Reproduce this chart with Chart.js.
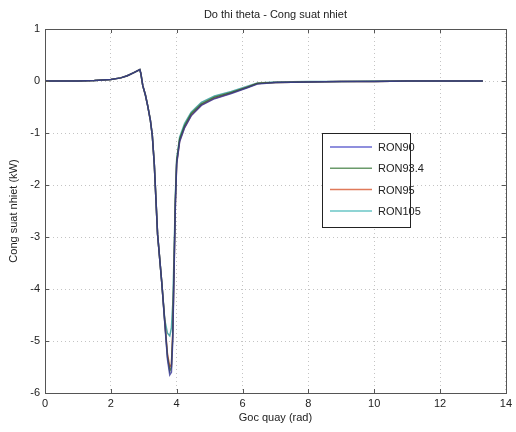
<!DOCTYPE html>
<html>
<head>
<meta charset="utf-8">
<script src="https://cdn.jsdelivr.net/npm/chart.js@4"></script>
<style>
body{margin:0;background:#fff}
canvas{display:block}
</style>
</head>
<body>
<canvas id="chart" width="516" height="432"></canvas>
<script>

let theta=[0,0.5,1,1.5,2,2.3,2.5,2.7,2.88,2.91,2.97,3.05,3.12,3.2,3.26,3.32,3.42,3.55,3.64,3.72,3.79,3.84,3.88,3.92,3.96,4.0,4.09,4.24,4.44,4.75,5.15,5.66,6.15,6.45,7,8,9,10,11,12,13,13.3]

let ron90=[0,0,0,0.01,0.03,0.06,0.1,0.16,0.22,0.15,-0.09,-0.27,-0.48,-0.75,-1.05,-1.6,-2.95,-3.9,-4.67,-5.35,-5.65,-5.6,-5.0,-3.7,-2.4,-1.6,-1.17,-0.9,-0.67,-0.47,-0.34,-0.24,-0.13,-0.06,-0.03,-0.02,-0.01,-0.01,0,0,0,0]
let ron93=[0,0,0,0.01,0.03,0.06,0.1,0.16,0.22,0.15,-0.09,-0.27,-0.48,-0.75,-1.05,-1.6,-2.95,-3.9,-4.65,-5.3,-5.58,-5.5,-4.9,-3.6,-2.3,-1.55,-1.12,-0.86,-0.63,-0.44,-0.31,-0.22,-0.12,-0.05,-0.03,-0.02,-0.01,-0.01,0,0,0,0]
let ron95=[0,0,0,0.01,0.03,0.06,0.1,0.16,0.22,0.15,-0.09,-0.27,-0.48,-0.75,-1.05,-1.6,-2.95,-3.9,-4.63,-5.25,-5.5,-5.45,-4.85,-3.6,-2.35,-1.58,-1.15,-0.89,-0.66,-0.46,-0.33,-0.23,-0.12,-0.05,-0.03,-0.02,-0.01,-0.01,0,0,0,0]
let ron105=[0,0,0,0.01,0.03,0.06,0.1,0.16,0.22,0.15,-0.09,-0.27,-0.48,-0.75,-1.05,-1.6,-2.95,-3.9,-4.6,-4.85,-4.9,-4.75,-4.3,-3.35,-2.2,-1.5,-1.08,-0.82,-0.6,-0.41,-0.29,-0.2,-0.1,-0.04,-0.02,-0.01,-0.01,0,0,0,0,0]

let names=["RON90","RON93.4","RON95","RON105"]
let colors=["rgba(55,55,150,0.8)","rgba(35,95,35,0.8)","rgba(180,55,40,0.8)","rgba(45,150,150,0.8)"]
let legendColors=["#6a6ad2","#6a9a6a","#e07a5a","#6ac6c6"]

let xTicks=[0,2,4,6,8,10,12,14]
let yTicks=[-6,-5,-4,-3,-2,-1,0,1]

let font="'Liberation Sans', Arial, Helvetica, sans-serif"

function pts(ys){
return theta.map((t,i)=>({x:t,y:ys[i]}))
}

// box, inner ticks and legend like matlab
let matlabBox={
id:"matlabBox",
afterDraw(c){
let ctx=c.ctx
let a=c.chartArea
let sx=c.scales.x
let sy=c.scales.y
ctx.save()
ctx.strokeStyle="#555"
ctx.lineWidth=1
ctx.strokeRect(Math.round(a.left)+0.5,Math.round(a.top)+0.5,Math.round(a.right-a.left),Math.round(a.bottom-a.top))
ctx.beginPath()
xTicks.forEach(v=>{
let px=Math.round(sx.getPixelForValue(v))+0.5
ctx.moveTo(px,a.bottom);ctx.lineTo(px,a.bottom-4)
ctx.moveTo(px,a.top);ctx.lineTo(px,a.top+4)
})
yTicks.forEach(v=>{
let py=Math.round(sy.getPixelForValue(v))+0.5
ctx.moveTo(a.left,py);ctx.lineTo(a.left+4,py)
ctx.moveTo(a.right,py);ctx.lineTo(a.right-4,py)
})
ctx.stroke()

// legend
let lx=322,ly=133,lw=88,lh=94
ctx.fillStyle="#fff"
ctx.fillRect(lx,ly,lw,lh)
ctx.strokeStyle="#222"
ctx.strokeRect(lx+0.5,ly+0.5,lw,lh)
ctx.font="11px "+font
ctx.textBaseline="middle"
names.forEach((n,i)=>{
let yy=ly+14+i*21.3
ctx.strokeStyle=legendColors[i]
ctx.lineWidth=1.5
ctx.beginPath()
ctx.moveTo(lx+8,yy);ctx.lineTo(lx+50,yy)
ctx.stroke()
ctx.fillStyle="#222"
ctx.fillText(n,lx+56,yy+1)
})
ctx.restore()
}
}

let chart=new Chart(document.getElementById("chart"),{
type:"scatter",
data:{
datasets:[ron90,ron93,ron95,ron105].map((d,i)=>({
label:names[i],
data:pts(d),
showLine:true,
borderColor:colors[i],
backgroundColor:colors[i],
borderWidth:1.5,
pointRadius:0,
tension:0
}))
},
options:{
responsive:false,
animation:false,
layout:{padding:{right:9}},
plugins:{
legend:{display:false},
tooltip:{enabled:false},
title:{
display:true,
text:"Do thi theta - Cong suat nhiet",
fullSize:false,
color:"#222",
font:{family:font,size:11,weight:"normal"},
padding:{top:8.4,bottom:7.4}
}
},
scales:{
x:{
type:"linear",
min:0,max:14,
afterFit(s){s.height=39},
afterBuildTicks(s){s.ticks=xTicks.map(v=>({value:v}))},
ticks:{color:"#222",padding:4,font:{family:font,size:11},maxRotation:0},
grid:{color:"#c4c4c4",drawTicks:false},
border:{display:false,dash:[1,3]},
title:{display:true,text:"Goc quay (rad)",color:"#222",font:{family:font,size:11},padding:{top:0,bottom:7.4}}
},
y:{
type:"linear",
min:-6,max:1,
afterFit(s){s.width=45},
afterBuildTicks(s){s.ticks=yTicks.map(v=>({value:v}))},
ticks:{color:"#222",padding:5,font:{family:font,size:11}},
grid:{color:"#c4c4c4",drawTicks:false},
border:{display:false,dash:[1,3]},
title:{display:true,text:"Cong suat nhiet (kW)",color:"#222",font:{family:font,size:11},padding:{top:7.4,bottom:0}}
}
}
},
plugins:[matlabBox]
})

</script>
</body>
</html>
